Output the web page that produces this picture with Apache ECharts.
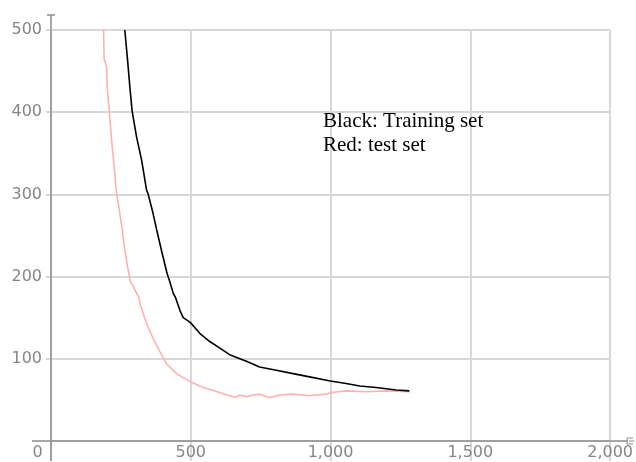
<!DOCTYPE html>
<html>
<head>
<meta charset="utf-8">
<script src="https://cdn.jsdelivr.net/npm/echarts@6/dist/echarts.min.js"></script>
<style>
  html, body { margin: 0; padding: 0; background: #fff; }
  #main { width: 636px; height: 462px; }
</style>
</head>
<body>
<div id="main"></div>
<script>
// black curve - training set
var trainX = [264, 274, 282, 290, 306, 324, 342, 347, 365, 378, 395, 415, 423, 437, 446, 461, 473, 499, 532, 568, 604, 639, 699, 746, 806, 866, 925, 999, 1056, 1104, 1163, 1235, 1282];
var trainY = [500, 463, 431, 402, 370, 342, 305, 301, 277, 257, 232, 204, 196, 180, 174, 159, 150, 144, 131, 121, 113, 105, 97, 90, 86, 82, 78, 73, 70, 67, 65, 62, 61];
// red curve - test set
var testX = [188, 190, 199, 201, 208, 214, 220, 226, 233, 246, 255, 264, 274, 284, 294, 306, 315, 318, 342, 365, 389, 413, 449, 499, 544, 604, 639, 660, 675, 700, 723, 746, 770, 782, 818, 866, 925, 985, 1002, 1056, 1128, 1199, 1282];
var testY = [500, 465, 455, 431, 402, 378, 354, 334, 305, 277, 257, 232, 212, 194, 188, 180, 174, 167, 143, 125, 109, 94, 82, 72, 65, 59, 55, 53, 56, 54, 56, 57, 54, 53, 56, 57, 55, 57, 59, 61, 60, 61, 60];
var xTicks = [0, 500, 1000, 1500, 2000];
var yTicks = [0, 100, 200, 300, 400, 500];

function pairs(xs, ys) {
    var out = [];
    for (var i = 0; i < xs.length; i++) {
        out.push([xs[i], ys[i]]);
    }
    return out;
}

var axisGray = '#8c8c8c';
var gridGray = '#d8d8d8';
var labelFont = 'DejaVu Sans';

var myChart = echarts.init(document.getElementById('main'));
var option = {
    animation: false,
    grid: { left: 51, right: 25, top: 30, bottom: 21 },
    xAxis: {
        type: 'value',
        min: xTicks[0],
        max: xTicks[xTicks.length - 1],
        interval: 500,
        axisLine: { show: false },
        axisTick: { show: true, length: 20, lineStyle: { color: gridGray, width: 2 } },
        splitLine: { show: true, lineStyle: { color: gridGray, width: 2 } },
        axisLabel: {
            color: '#868686',
            fontSize: 16,
            fontFamily: labelFont,
            margin: 4,
            formatter: function (v) {
                if (v === 0) return '{z|0}';
                return v.toLocaleString('en-US');
            },
            rich: { z: { color: '#868686', fontSize: 16, fontFamily: labelFont, padding: [0, 27, 0, 0] } }
        }
    },
    yAxis: {
        type: 'value',
        min: yTicks[0],
        max: yTicks[yTicks.length - 1],
        interval: 100,
        axisLine: { show: false },
        axisTick: { show: true, length: 5, lineStyle: { color: gridGray, width: 2 } },
        splitLine: { show: true, lineStyle: { color: gridGray, width: 2 } },
        axisLabel: {
            color: '#868686',
            fontSize: 16,
            fontFamily: labelFont,
            margin: 9,
            showMinLabel: false
        }
    },
    series: [
        {
            name: 'Training set',
            type: 'line',
            data: pairs(trainX, trainY),
            showSymbol: false,
            lineStyle: { color: '#000000', width: 1.6 },
            z: 3
        },
        {
            name: 'Test set',
            type: 'line',
            data: pairs(testX, testY),
            showSymbol: false,
            lineStyle: { color: '#ffb0b0', width: 1.6 },
            z: 2
        }
    ],
    graphic: [
        // axis lines, extended past the plot like in the original
        { type: 'line', z: 100, shape: { x1: 51, y1: 15, x2: 51, y2: 461 }, style: { stroke: axisGray, lineWidth: 1.5 } },
        { type: 'line', z: 100, shape: { x1: 47, y1: 15, x2: 55, y2: 15 }, style: { stroke: axisGray, lineWidth: 1.5 } },
        { type: 'line', z: 100, shape: { x1: 32, y1: 441, x2: 628, y2: 441 }, style: { stroke: axisGray, lineWidth: 1.5 } },
        { type: 'polyline', z: 100, shape: { points: [[633, 438], [627, 438], [627, 444], [633, 444]] }, style: { stroke: axisGray, lineWidth: 1, fill: null } },
        { type: 'line', z: 100, shape: { x1: 629, y1: 441, x2: 634, y2: 441 }, style: { stroke: axisGray, lineWidth: 1 } },
        {
            type: 'text',
            z: 100,
            left: 323,
            top: 109,
            style: {
                text: 'Black: Training set\nRed: test set',
                font: '21px "Liberation Serif"',
                lineHeight: 24,
                fill: '#000'
            }
        }
    ]
};
myChart.setOption(option);
</script>
</body>
</html>
